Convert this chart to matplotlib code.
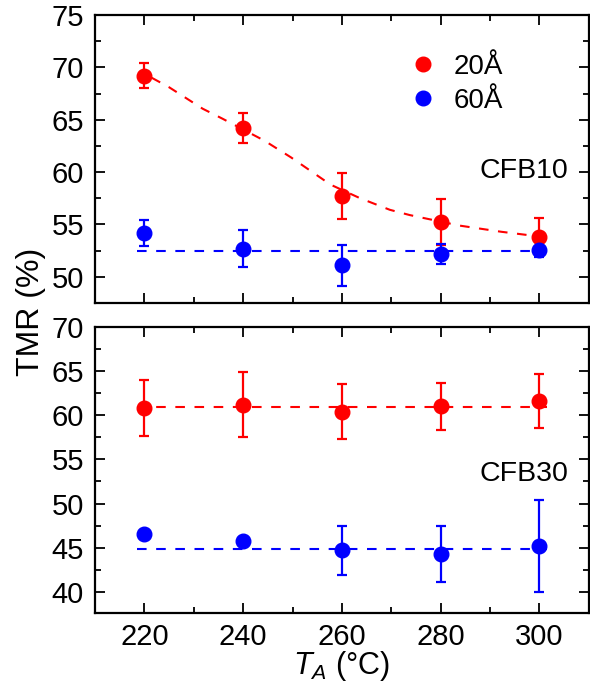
import matplotlib
matplotlib.use('Agg')
import matplotlib.pyplot as plt
from matplotlib.ticker import MultipleLocator
from matplotlib.lines import Line2D

plt.rcParams['font.family'] = ['Liberation Sans', 'DejaVu Sans']
plt.rcParams['mathtext.fontset'] = 'custom'
plt.rcParams['mathtext.it'] = 'Liberation Sans:italic'
plt.rcParams['mathtext.rm'] = 'Liberation Sans'

# 数据
ta = [220, 240, 260, 280, 300]

# CFB10
top_20 = [69.2, 64.2, 57.7, 55.2, 53.8]
top_20_err = [1.2, 1.45, 2.2, 2.2, 1.8]
top_60 = [54.2, 52.7, 51.1, 52.2, 52.6]
top_60_err = [1.25, 1.8, 1.95, 0.95, 0.7]
# 拟合曲线
fit_x = [221.5, 225, 231.8, 235.8, 244.3, 249.7, 253.7, 257.7, 263.7, 269.7, 273.7, 283.7, 292.3, 300]
fit_y = [69.0, 68.1, 66.05, 65.1, 63.0, 61.4, 60.1, 58.8, 57.5, 56.4, 55.9, 54.9, 54.3, 53.85]
top_60_mean = 52.45

# CFB30
bot_20 = [60.8, 61.2, 60.4, 61.0, 61.6]
bot_20_err = [3.2, 3.7, 3.1, 2.7, 3.05]
bot_60 = [46.6, 45.7, 44.7, 44.3, 45.2]
bot_60_err = [0.3, 0.3, 2.8, 3.2, 5.2]
bot_20_mean = 60.9
bot_60_mean = 44.85
line_x = [218.5, 301.5]

fig = plt.figure(figsize=(5.9, 6.95), dpi=100)
ax1 = fig.add_axes([0.161, 0.564, 0.837, 0.4145])
ax2 = fig.add_axes([0.161, 0.118, 0.837, 0.4115])

fs = 21
ebkw = dict(fmt='o', markersize=10.5, elinewidth=1.6, capsize=3.5, capthick=1.6, zorder=5)
dkw = dict(ls='--', lw=1.5, dashes=(4.6, 4.6))

# 上图
ax1.plot(fit_x, fit_y, color='red', **dkw)
ax1.plot(line_x, [top_60_mean] * 2, color='blue', **dkw)
ax1.errorbar(ta, top_20, yerr=top_20_err, color='red', **ebkw)
ax1.errorbar(ta, top_60, yerr=top_60_err, color='blue', **ebkw)
ax1.set_ylim(47.5, 75)
ax1.yaxis.set_major_locator(MultipleLocator(5))
ax1.yaxis.set_minor_locator(MultipleLocator(2.5))
ax1.text(296.8, 60.1, 'CFB10', fontsize=20.5, ha='center', va='center')
handles = [Line2D([], [], ls='', marker='o', ms=10.5, color='red'),
           Line2D([], [], ls='', marker='o', ms=10.5, color='blue')]
ax1.legend(handles, ['20Å', '60Å'], loc='upper left', bbox_to_anchor=(0.6466, 0.866),
           frameon=False, fontsize=20, handlelength=0.6, handletextpad=0.8,
           labelspacing=0.3, borderaxespad=0, borderpad=0)
ax1.tick_params(labelbottom=False)

# 下图
ax2.plot(line_x, [bot_20_mean] * 2, color='red', **dkw)
ax2.plot(line_x, [bot_60_mean] * 2, color='blue', **dkw)
ax2.errorbar(ta, bot_20, yerr=bot_20_err, color='red', **ebkw)
ax2.errorbar(ta, bot_60, yerr=bot_60_err, color='blue', **ebkw)
ax2.set_ylim(37.6, 70)
ax2.yaxis.set_major_locator(MultipleLocator(5))
ax2.yaxis.set_minor_locator(MultipleLocator(2.5))
ax2.text(296.8, 53.3, 'CFB30', fontsize=20.5, ha='center', va='center')
ax2.set_xlabel(r'$\mathit{T}_{\mathit{A}}$ (°C)', fontsize=22, labelpad=-1)

for ax in (ax1, ax2):
    ax.set_xlim(210, 310)
    ax.xaxis.set_major_locator(MultipleLocator(20))
    ax.xaxis.set_minor_locator(MultipleLocator(10))
    ax.tick_params(which='both', direction='in', top=True, right=True, labelsize=fs, width=1.3)
    ax.tick_params(which='major', length=7)
    ax.tick_params(which='minor', length=4)
    ax.tick_params(axis='y', which='major', pad=8)
    ax.tick_params(axis='x', which='major', pad=7)
    for s in ax.spines.values():
        s.set_linewidth(1.6)

fig.text(0.052, 0.551, 'TMR (%)', rotation=90, fontsize=23, ha='center', va='center')

plt.savefig('out.png', dpi=100)
plt.close()
